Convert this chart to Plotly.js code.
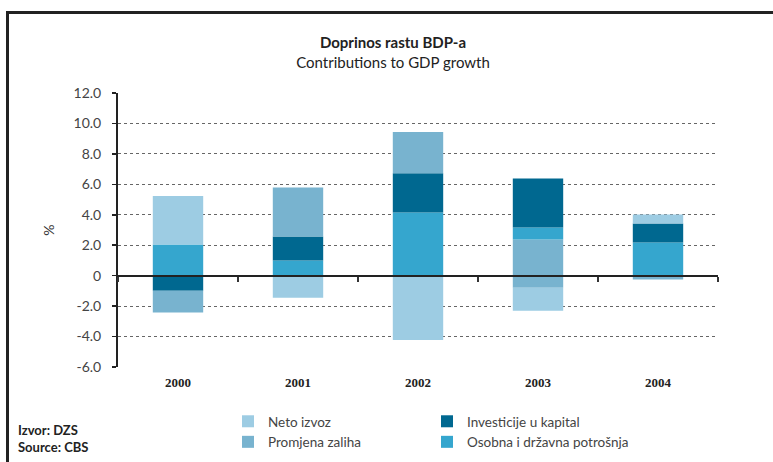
<!DOCTYPE html>
<html>
<head>
<meta charset="utf-8">
<script src="https://cdn.plot.ly/plotly-3.0.1.min.js"></script>
<style>
  html, body { margin: 0; padding: 0; background: #fff; }
  #wrap { position: relative; width: 773px; height: 462px; overflow: hidden; }
  #chart { width: 773px; height: 462px; }
  #frame { position: absolute; left: 6px; top: 11px; width: 800px; height: 500px;
           border-left: 3px solid #222; border-top: 3px solid #222; pointer-events: none; }
</style>
</head>
<body>
<div id="wrap"><div id="chart"></div><div id="frame"></div></div>
<script>
// Data (percentage points)
const years = ['2000', '2001', '2002', '2003', '2004'];
const netoIzvoz       = [3.20, -1.45, -4.22, -1.52, 0.59];
const promjenaZaliha  = [-1.43, 3.23, 2.71, -0.79, -0.26];
const promjenaZalihaDio = [null, null, null, 2.37, null]; // positive part of 2003 drawn below consumption
const investicije     = [-0.99, 1.58, 2.57, 3.23, 1.25];
const osobnaPotrosnja = [2.04, 0.99, 4.15, 0.79, 2.18];

const yTickVals = [12, 10, 8, 6, 4, 2, 0, -2, -4, -6];
const yTickText = ['12.0', '10.0', '8.0', '6.0', '4.0', '2.0', '0', '-2.0', '-4.0', '-6.0'];
const boundaryTicks = [-0.5, 0.5, 1.5, 2.5, 3.5, 4.5];

const C = {
  neto: '#9dcce3',
  promjena: '#78b3cf',
  invest: '#006890',
  osobna: '#35a6ce'
};

const font = 'Lato, "Open Sans", sans-serif';

function bar(name, y, color, opts) {
  return Object.assign({
    type: 'bar', name: name, x: years, y: y,
    marker: { color: color, line: { width: 0 } },
    hoverinfo: 'x+y+name'
  }, opts || {});
}

const traces = [
  bar('Promjena zaliha', promjenaZalihaDio, C.promjena, { showlegend: false, legendgroup: 'pz' }),
  bar('Osobna i državna potrošnja', osobnaPotrosnja, C.osobna, { legend: 'legend2', legendrank: 2 }),
  bar('Investicije u kapital', investicije, C.invest, { legend: 'legend2', legendrank: 1 }),
  bar('Promjena zaliha', promjenaZaliha, C.promjena, { legendgroup: 'pz', legendrank: 2 }),
  bar('Neto izvoz', netoIzvoz, C.neto, { legendrank: 1 }),
  // helper so that the zero-line axis (with category boundary ticks) is drawn
  { type: 'scatter', mode: 'none', x: boundaryTicks, y: boundaryTicks.map(() => 0),
    xaxis: 'x2', yaxis: 'y', showlegend: false, hoverinfo: 'skip' }
];

const W = 600, H = 274; // plot area size in px
const legendFont = { family: font, size: 13.5, color: '#444' };

const layout = {
  width: 773, height: 462,
  margin: { l: 118, r: 55, t: 93, b: 95, autoexpand: false },
  paper_bgcolor: '#fff', plot_bgcolor: '#fff',
  barmode: 'relative',
  bargap: 0.58,
  font: { family: font, color: '#444', size: 14 },
  title: {
    text: '<b>Doprinos rastu BDP-a</b><br>Contributions to GDP growth',
    x: 393 / 773, xanchor: 'center', xref: 'container',
    y: 1 - 48 / 462, yanchor: 'top', yref: 'container',
    font: { family: font, size: 15, color: '#222' }
  },
  xaxis: {
    type: 'category', range: [-0.5, 4.5],
    showline: false, showgrid: false, zeroline: false, ticks: '',
    tickfont: { family: '"Liberation Serif", serif', size: 13, color: '#222', weight: 'bold' },
    ticklabelstandoff: 6, automargin: false
  },
  xaxis2: {
    overlaying: 'x', anchor: 'free', position: 6 / 18, side: 'bottom',
    type: 'linear', range: [-0.5, 4.5],
    tickmode: 'array', tickvals: boundaryTicks, showticklabels: false,
    ticks: 'outside', ticklen: 5, tickwidth: 1.5, tickcolor: '#333',
    showline: true, linecolor: '#222', linewidth: 2.5,
    showgrid: false, zeroline: false, layer: 'above traces', fixedrange: true
  },
  yaxis: {
    range: [-6, 12],
    tickmode: 'array', tickvals: yTickVals, ticktext: yTickText,
    showline: true, linecolor: '#222', linewidth: 2,
    ticks: 'outside', ticklen: 4, tickcolor: '#222', tickwidth: 1.5,
    ticklabelstandoff: 8,
    showgrid: true, gridcolor: '#666', gridwidth: 1, griddash: 'dot',
    zeroline: false,
    tickfont: { family: font, size: 14, color: '#444' },
    title: { text: '%', standoff: 16, font: { family: font, size: 14, color: '#333' } },
    layer: 'above traces', automargin: false
  },
  legend: {
    x: (228 - 118) / W, xanchor: 'left', y: (367 - 406) / H, yanchor: 'top',
    orientation: 'v', traceorder: 'normal',
    font: legendFont, itemwidth: 30, tracegroupgap: 0, bgcolor: 'rgba(0,0,0,0)'
  },
  legend2: {
    x: (427 - 118) / W, xanchor: 'left', y: (367 - 406) / H, yanchor: 'top',
    orientation: 'v', traceorder: 'normal',
    font: legendFont, itemwidth: 30, tracegroupgap: 0, bgcolor: 'rgba(0,0,0,0)'
  },
  annotations: [
    { text: '<b>Izvor: DZS</b><br><b>Source: CBS</b>', xref: 'paper', yref: 'paper',
      x: (16 - 118) / W, xanchor: 'left', y: (367 - 420) / H, yanchor: 'top',
      showarrow: false, align: 'left',
      font: { family: font, size: 13, color: '#222' } }
  ]
};

Plotly.newPlot('chart', traces, layout, { displayModeBar: false, staticPlot: true });
</script>
</body>
</html>
